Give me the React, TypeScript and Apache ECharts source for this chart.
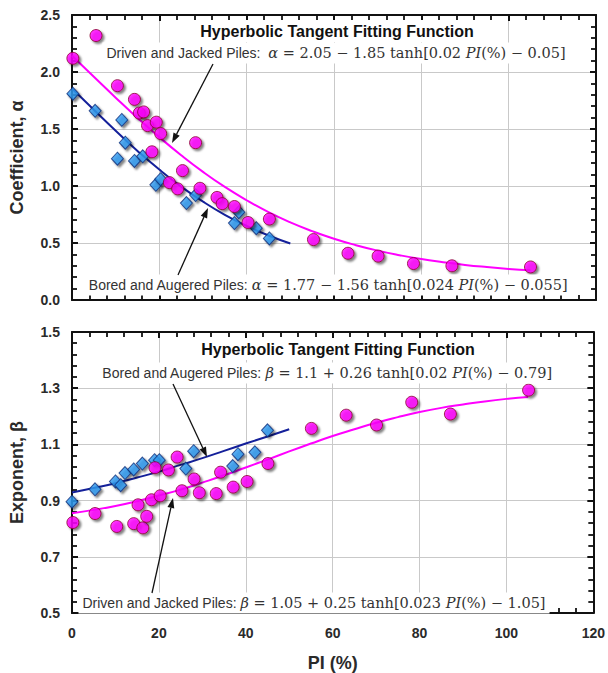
import React, { useEffect, useRef } from "react";
import * as echarts from "echarts";

// ---------- Data ----------
// Top panel: coefficient alpha
const alphaDJ_PI = [0.2, 5.5, 10.4, 14.3, 15.4, 16.4, 17.3, 19.3, 20.3, 18.3, 28.3, 25.3, 22.3, 24.2, 29.3, 33.2, 34.4, 37.2, 40.3, 45.2, 55.3, 63.2, 70.1, 78.2, 87.0, 105.0];
const alphaDJ = [2.12, 2.32, 1.88, 1.76, 1.64, 1.65, 1.53, 1.56, 1.46, 1.30, 1.38, 1.135, 1.03, 0.975, 0.98, 0.90, 0.845, 0.82, 0.68, 0.71, 0.53, 0.41, 0.385, 0.32, 0.30, 0.29];
const alphaBA_PI = [0.2, 5.3, 11.4, 12.2, 10.4, 14.3, 16.2, 19.2, 20.3, 26.2, 28.3, 38.2, 37.2, 42.2, 45.2];
const alphaBA = [1.81, 1.66, 1.58, 1.38, 1.24, 1.22, 1.26, 1.01, 1.06, 0.85, 0.92, 0.77, 0.675, 0.63, 0.54];

// Fitted curves
const fitDJ_PI = [0, 5, 10, 15, 20, 25, 30, 35, 40, 45, 50, 55, 60, 65, 70, 75, 80, 85, 90, 95, 100, 105];
const alphaFitDJ = [2.142, 1.958, 1.775, 1.597, 1.428, 1.270, 1.124, 0.992, 0.875, 0.771, 0.681, 0.604, 0.537, 0.481, 0.433, 0.393, 0.359, 0.332, 0.308, 0.289, 0.273, 0.260];
const fitBA_PI = [0, 5, 10, 15, 20, 25, 30, 35, 40, 45, 50];
const alphaFitBA = [1.856, 1.669, 1.485, 1.308, 1.144, 0.995, 0.863, 0.747, 0.649, 0.566, 0.496];

// Bottom panel: exponent beta
const betaBA_PI = [0.0, 5.3, 10.0, 11.2, 12.2, 14.2, 16.2, 19.0, 20.1, 28.0, 26.2, 37.0, 38.2, 42.1, 45.0];
const betaBA = [0.896, 0.94, 0.968, 0.955, 0.998, 1.011, 1.032, 1.044, 1.044, 1.076, 1.014, 1.023, 1.065, 1.072, 1.15];
const betaDJ_PI = [0.2, 5.3, 10.3, 14.2, 15.2, 16.3, 17.2, 18.3, 19.1, 20.3, 22.2, 24.2, 25.3, 28.1, 29.3, 33.2, 34.2, 37.1, 40.3, 45.1, 55.1, 63.1, 70.1, 78.2, 87.1, 105.1];
const betaDJ = [0.822, 0.854, 0.808, 0.818, 0.885, 0.803, 0.844, 0.903, 1.017, 0.917, 1.009, 1.055, 0.935, 0.977, 0.928, 0.925, 1.001, 0.948, 0.968, 1.032, 1.157, 1.204, 1.169, 1.25, 1.208, 1.293];
const betaFitBA = [0.929, 0.945, 0.962, 0.982, 1.003, 1.027, 1.051, 1.077, 1.103, 1.128, 1.154];
const betaFitDJ = [0.855, 0.867, 0.881, 0.898, 0.918, 0.939, 0.964, 0.990, 1.018, 1.046, 1.075, 1.103, 1.130, 1.154, 1.177, 1.197, 1.215, 1.230, 1.242, 1.253, 1.262, 1.269];

const xTicks = [0, 20, 40, 60, 80, 100, 120];

const pair = (xs: number[], ys: number[]) => xs.map((x, i) => [x, ys[i]]);

const MAGENTA = "#FF00FF";
const NAVY = "#14209A";
const SANS = "Liberation Sans, Arial, sans-serif";
const labelFont = { fontFamily: SANS, fontWeight: "bold" as const, fontSize: 14, color: "#2a2a2a" };
const nameFont = { fontFamily: SANS, fontWeight: "bold" as const, fontSize: 18, color: "#2a2a2a" };

function frameAxis(gridIndex: number, position: string, extra: any) {
  return {
    gridIndex,
    position,
    type: "value",
    axisLine: { show: true, onZero: false, lineStyle: { color: "#111", width: 2 } },
    axisTick: { show: true, inside: true, length: 6, lineStyle: { color: "#111", width: 2 } },
    minorTick: { show: true, splitNumber: 5, length: 5, lineStyle: { color: "#111", width: 1.8 } },
    axisLabel: { show: false },
    splitLine: { show: false },
    ...extra,
  };
}

const pointStyleCircle = {
  color: MAGENTA,
  borderColor: "#8A0030",
  borderWidth: 1,
  shadowBlur: 2,
  shadowOffsetX: 2,
  shadowOffsetY: 2,
  shadowColor: "rgba(0,0,0,0.6)",
};
const pointStyleDiamond = {
  color: "#2E9AF0",
  borderColor: "#10307A",
  borderWidth: 1,
  shadowBlur: 2,
  shadowOffsetX: 2,
  shadowOffsetY: 2,
  shadowColor: "rgba(0,0,0,0.6)",
};

function arrow(x1: number, y1: number, x2: number, y2: number) {
  const dx = x2 - x1;
  const dy = y2 - y1;
  const len = Math.sqrt(dx * dx + dy * dy);
  const ux = dx / len;
  const uy = dy / len;
  const hl = 10;
  const hw = 3.5;
  const bx = x2 - ux * hl;
  const by = y2 - uy * hl;
  return [
    { type: "line", z: 20, shape: { x1, y1, x2: bx, y2: by }, style: { stroke: "#111", lineWidth: 1.3 } },
    {
      type: "polygon",
      z: 20,
      shape: { points: [[x2, y2], [bx - uy * hw, by + ux * hw], [bx + uy * hw, by - ux * hw]] },
      style: { fill: "#111" },
    },
  ];
}

const richStyles = {
  s: { fontFamily: SANS, fontSize: 14, fill: "#333" },
  m: { fontFamily: "DejaVu Serif, Liberation Serif, serif", fontSize: 14.5, fill: "#333" },
  i: { fontFamily: "DejaVu Serif, Liberation Serif, serif", fontSize: 14.5, fontStyle: "italic", fill: "#333" },
};

function eqText(x: number, y: number, text: string) {
  return {
    type: "text",
    z: 10,
    x,
    y,
    style: {
      text,
      rich: richStyles,
      align: "center",
      verticalAlign: "middle",
      backgroundColor: "#fff",
      padding: [3, 4],
    },
  };
}

function titleText(x: number, y: number) {
  return {
    type: "text",
    z: 10,
    x,
    y,
    style: {
      text: "Hyperbolic Tangent Fitting Function",
      fontFamily: SANS,
      fontWeight: "bold",
      fontSize: 16,
      fill: "#111",
      align: "center",
      verticalAlign: "middle",
      backgroundColor: "#fff",
      padding: [3, 6],
    },
  };
}

export default function App() {
  const ref = useRef<HTMLDivElement>(null);
  useEffect(() => {
    if (!ref.current) return;
    const chart = echarts.init(ref.current, undefined, { renderer: "svg" });
    const grid = [
      { left: 70, top: 15, width: 526, height: 285 },
      { left: 70, top: 332, width: 526, height: 288 },
    ];
    const xCommon = { min: xTicks[0], max: xTicks[xTicks.length - 1], interval: 20 };
    const split = { show: true, lineStyle: { color: "#c9c9c9", width: 1 } };
    const xAxis = [
      frameAxis(0, "bottom", { ...xCommon, splitLine: split }),
      frameAxis(0, "top", { ...xCommon }),
      frameAxis(1, "bottom", {
        ...xCommon,
        splitLine: split,
        axisLabel: { show: true, margin: 13, ...labelFont },
        name: "PI (%)",
        nameLocation: "middle",
        nameGap: 41,
        nameTextStyle: nameFont,
      }),
      frameAxis(1, "top", { ...xCommon }),
    ];
    const yAxis = [
      frameAxis(0, "left", {
        min: 0,
        max: 2.5,
        interval: 0.5,
        splitLine: split,
        axisLabel: { show: true, margin: 12, formatter: (v: number) => v.toFixed(1), ...labelFont },
        name: "Coefficient, α",
        nameLocation: "middle",
        nameGap: 46,
        nameRotate: 90,
        nameTextStyle: nameFont,
      }),
      frameAxis(0, "right", { min: 0, max: 2.5, interval: 0.5 }),
      frameAxis(1, "left", {
        min: 0.5,
        max: 1.5,
        interval: 0.2,
        splitLine: split,
        axisLabel: { show: true, margin: 12, formatter: (v: number) => v.toFixed(1), ...labelFont },
        name: "Exponent, β",
        nameLocation: "middle",
        nameGap: 46,
        nameRotate: 90,
        nameTextStyle: nameFont,
      }),
      frameAxis(1, "right", { min: 0.5, max: 1.5, interval: 0.2 }),
    ];

    const lineSeries = (xi: number, yi: number, xs: number[], ys: number[], color: string) => ({
      type: "line",
      xAxisIndex: xi,
      yAxisIndex: yi,
      data: pair(xs, ys),
      smooth: true,
      showSymbol: false,
      symbol: "none",
      z: 3,
      lineStyle: { color, width: 2 },
    });
    const scatter = (xi: number, yi: number, xs: number[], ys: number[], circle: boolean) => ({
      type: "scatter",
      xAxisIndex: xi,
      yAxisIndex: yi,
      data: pair(xs, ys),
      symbol: circle ? "circle" : "diamond",
      symbolSize: circle ? 12 : [12, 13],
      z: 4,
      itemStyle: circle ? pointStyleCircle : pointStyleDiamond,
    });

    chart.setOption({
      animation: false,
      backgroundColor: "#fff",
      grid,
      xAxis,
      yAxis,
      series: [
        lineSeries(0, 0, fitDJ_PI, alphaFitDJ, MAGENTA),
        lineSeries(0, 0, fitBA_PI, alphaFitBA, NAVY),
        scatter(0, 0, alphaBA_PI, alphaBA, false),
        scatter(0, 0, alphaDJ_PI, alphaDJ, true),
        lineSeries(2, 2, fitDJ_PI, betaFitDJ, MAGENTA),
        lineSeries(2, 2, fitBA_PI, betaFitBA, NAVY),
        scatter(2, 2, betaBA_PI, betaBA, false),
        scatter(2, 2, betaDJ_PI, betaDJ, true),
      ],
      graphic: [
        titleText(337, 31),
        eqText(336, 53, "{s|Driven and Jacked Piles:  }{i|α}{m| = 2.05 − 1.85 tanh[0.02 }{i|PI}{m|(%) − 0.05]}"),
        eqText(328, 285, "{s|Bored and Augered Piles: }{i|α}{m| = 1.77 − 1.56 tanh[0.024 }{i|PI}{m|(%) − 0.055]}"),
        titleText(338, 349),
        eqText(327, 373, "{s|Bored and Augered Piles: }{i|β}{m| = 1.1 + 0.26 tanh[0.02 }{i|PI}{m|(%) − 0.79]}"),
        eqText(314, 603, "{s|Driven and Jacked Piles: }{i|β}{m| = 1.05 + 0.25 tanh[0.023 }{i|PI}{m|(%) − 1.05]}"),
        ...arrow(213, 64, 172, 143),
        ...arrow(178, 275, 208, 208),
        ...arrow(173, 384, 207, 457),
        ...arrow(152, 593, 173, 498),
      ],
    });
    return () => chart.dispose();
  }, []);
  return <div ref={ref} style={{ position: "absolute", left: 0, top: 0, width: 608, height: 673 }} />;
}
